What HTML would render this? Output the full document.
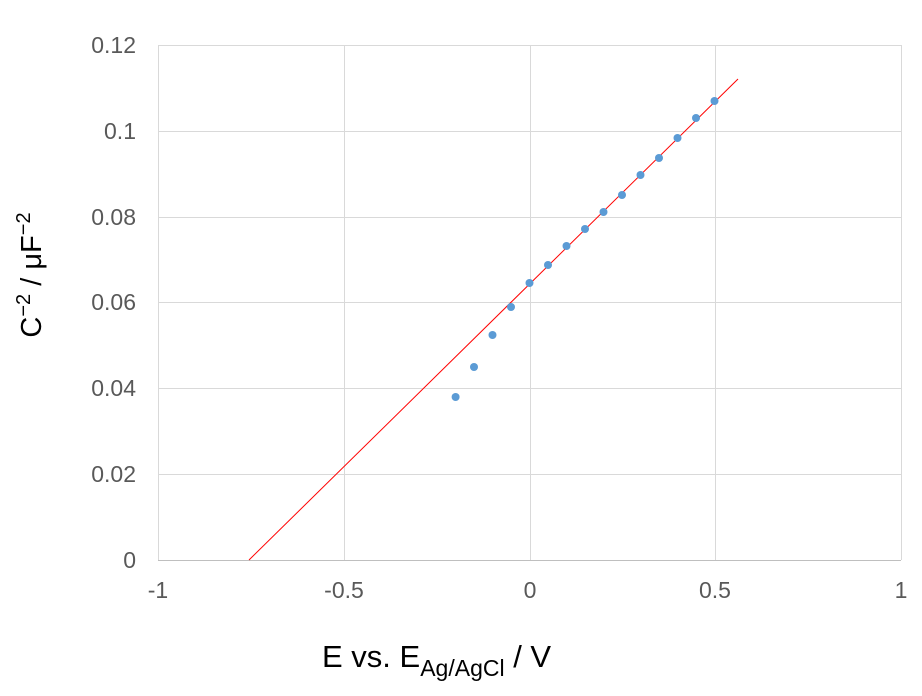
<!DOCTYPE html>
<html><head><meta charset="utf-8"><style>
html,body{margin:0;padding:0;background:#fff;}
svg{display:block;font-family:"Liberation Sans",Arial,sans-serif;}
</style></head><body>
<svg width="922" height="696" viewBox="0 0 922 696" xmlns="http://www.w3.org/2000/svg">
<rect width="922" height="696" fill="#fff"/>
<g stroke="#d9d9d9" stroke-width="1">
<line x1="158" y1="45.5" x2="901" y2="45.5"/>
<line x1="158" y1="131.5" x2="901" y2="131.5"/>
<line x1="158" y1="217.5" x2="901" y2="217.5"/>
<line x1="158" y1="302.5" x2="901" y2="302.5"/>
<line x1="158" y1="388.5" x2="901" y2="388.5"/>
<line x1="158" y1="474.5" x2="901" y2="474.5"/>
<line x1="158.5" y1="45" x2="158.5" y2="560"/>
<line x1="344.5" y1="45" x2="344.5" y2="560"/>
<line x1="530.5" y1="45" x2="530.5" y2="560"/>
<line x1="715.5" y1="45" x2="715.5" y2="560"/>
<line x1="901.5" y1="45" x2="901.5" y2="560"/>
</g>
<line x1="158" y1="560.5" x2="901" y2="560.5" stroke="#bfbfbf" stroke-width="1"/>
<g font-size="23" fill="#595959" text-anchor="end">
<text x="136" y="53">0.12</text>
<text x="136" y="139">0.1</text>
<text x="136" y="225">0.08</text>
<text x="136" y="310">0.06</text>
<text x="136" y="396">0.04</text>
<text x="136" y="482">0.02</text>
<text x="136" y="568">0</text>
</g>
<g font-size="23" fill="#595959" text-anchor="middle">
<text x="158" y="598">-1</text>
<text x="344" y="598">-0.5</text>
<text x="530" y="598">0</text>
<text x="715" y="598">0.5</text>
<text x="901" y="598">1</text>
</g>
<line x1="249" y1="560" x2="738" y2="79" stroke="#ff0000" stroke-width="1"/>
<g fill="#5b9bd5">
<circle cx="455.6" cy="397" r="4"/>
<circle cx="474" cy="367" r="4"/>
<circle cx="492.5" cy="335" r="4"/>
<circle cx="511" cy="307" r="4"/>
<circle cx="529.5" cy="283" r="4"/>
<circle cx="548" cy="265" r="4"/>
<circle cx="566.5" cy="246" r="4"/>
<circle cx="585" cy="229" r="4"/>
<circle cx="603.5" cy="212" r="4"/>
<circle cx="622" cy="195" r="4"/>
<circle cx="640.5" cy="175" r="4"/>
<circle cx="659" cy="158" r="4"/>
<circle cx="677.5" cy="138" r="4"/>
<circle cx="696" cy="118" r="4"/>
<circle cx="714.5" cy="101" r="4"/>
</g>
<text x="0" y="0" font-size="29" fill="#000" text-anchor="middle" transform="translate(41,275) rotate(-90)">C<tspan font-size="20" dy="-11">−2</tspan><tspan dy="11"> / μF</tspan><tspan font-size="20" dy="-11">−2</tspan></text>
<text x="322" y="667" font-size="31" fill="#000">E vs. E<tspan font-size="23" dy="9">Ag/AgCl</tspan><tspan dy="-9"> / V</tspan></text>
</svg>
</body></html>
